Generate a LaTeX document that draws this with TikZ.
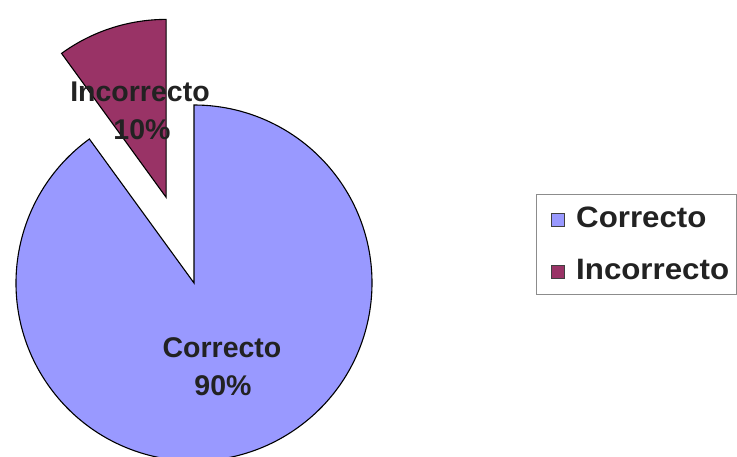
\documentclass[tikz,border=0pt]{standalone}
\usepackage{fontspec}
\setmainfont{Liberation Sans}
\usepackage{graphicx}
\usetikzlibrary{calc}
\definecolor{corr}{HTML}{9999FF}
\definecolor{incorr}{HTML}{993366}
\definecolor{txt}{HTML}{222222}
\tikzset{
  slice/.style={draw=black, line width=1.1pt, line join=miter},
  plabel/.style={anchor=base, inner sep=0pt, text=txt, font=\fontsize{28.5}{34}\selectfont\bfseries},
  llabel/.style={anchor=base west, inner sep=0pt, text=txt, font=\fontsize{29.5}{34}\selectfont\bfseries},
  marker/.style={draw=black!75, line width=1pt, minimum size=13pt, inner sep=0pt},
  legendbox/.style={draw=black!45, line width=0.6pt}
}
\begin{document}
\begin{tikzpicture}[x=1pt,y=1pt]
\useasboundingbox (0,0) rectangle (737,456);
\coordinate (C) at (194,173);
\coordinate (E) at ($(C)+(108:90)$);
% 90% slice
\path[slice, fill=corr] (C) -- ++(126:178) arc[start angle=126, end angle=450, radius=178] -- cycle;
% 10% slice (exploded)
\path[slice, fill=incorr] (E) -- ++(90:178) arc[start angle=90, end angle=126, radius=178] -- cycle;
% labels
\node[plabel] (lc1) at (222,99) {Correcto};
\node[plabel] (lc2) at (223,61) {90\%};
\node[plabel] (li1) at (140,354) {Incorrecto};
\node[plabel] (li2) at (142,316) {10\%};
% legend
\draw[legendbox] (536,162) rectangle (736,262);
\node[marker, fill=corr] (m1) at (557.5,235.5) {};
\node[marker, fill=incorr] (m2) at (557.5,184) {};
\node[llabel] (t1) at (576,228) {\scalebox{1.06}[1]{Correcto}};
\node[llabel] (t2) at (576,176) {\scalebox{1.06}[1]{Incorrecto}};
\end{tikzpicture}
\end{document}
